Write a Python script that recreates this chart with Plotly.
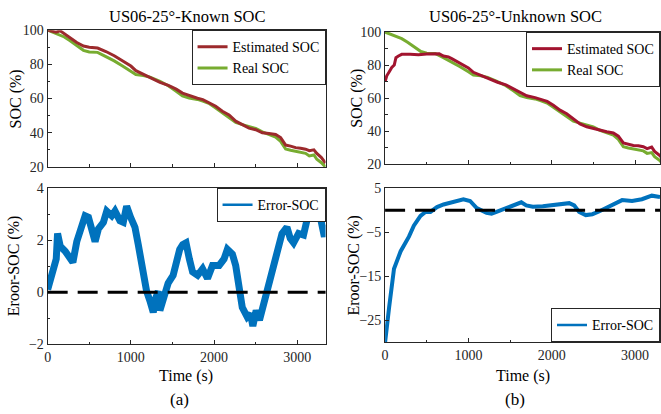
import plotly.graph_objects as go

# ---------------- data ----------------
t_real = [0, 100, 200, 270, 350, 430, 500, 600, 700, 800, 900, 1000, 1060, 1150, 1230,
          1350, 1450, 1545, 1620, 1700, 1800, 1865, 1945, 2020, 2100, 2180, 2260, 2340,
          2420, 2500, 2580, 2660, 2740, 2800, 2860, 2920, 2980, 3040, 3100, 3145, 3200,
          3235, 3290, 3340]
real_soc = [100, 98, 96, 93.8, 91, 88.2, 87.2, 87, 84.5, 82, 79, 76, 74, 73.5, 72.5,
            70, 67.5, 64.3, 61.5, 60.3, 59.5, 58.5, 57, 54.5, 51.5, 49, 46, 44.8,
            43.7, 42.5, 40.5, 39, 37.5, 35, 30.5, 29.8, 29.2, 28.8, 28, 26.5, 27,
            24.5, 22.5, 20]

t_est_a = [0, 60, 100, 150, 200, 270, 350, 430, 500, 600, 700, 800, 900, 1000, 1060,
           1150, 1230, 1350, 1450, 1545, 1620, 1700, 1800, 1865, 1945, 2020, 2100,
           2180, 2260, 2340, 2420, 2500, 2580, 2660, 2740, 2800, 2860, 2920, 2980,
           3040, 3100, 3145, 3200, 3235, 3290, 3340]
est_soc_a = [100, 99.3, 98.8, 99.6, 97.8, 95.5, 92.8, 90.7, 90.0, 89.5, 87.5, 85, 81.8,
             79, 76.3, 74.1, 72.0, 69.5, 67.7, 65.5, 63.2, 61.7, 60.2, 59.4, 57.6,
             55.5, 52.6, 50.4, 46.8, 44.6, 42.7, 41.8, 40.0, 39.6, 39.0, 37.2, 32.8,
             32.2, 31.3, 30.9, 30.4, 29.5, 30.0, 27.9, 25.5, 22.3]

t_est_b = [0, 20, 50, 80, 110, 130, 160, 200, 300, 400, 500, 600, 650, 700, 760, 800,
           900, 1000, 1060, 1150, 1230, 1350, 1450, 1545, 1620, 1700, 1800, 1865,
           1945, 2020, 2100, 2180, 2260, 2340, 2420, 2500, 2580, 2660, 2740, 2800,
           2860, 2920, 2980, 3040, 3100, 3145, 3200, 3235, 3290, 3340]
est_soc_b = [70, 73.5, 76, 78.5, 80, 84.5, 85.5, 86.5, 86.5, 86.3, 86.7, 86.5, 86.8,
             85.5, 85, 83.9, 81.3, 78.3, 75.6, 73.7, 71.9, 69.6, 68, 65.6, 63.2, 61.4,
             60.3, 59.4, 58, 55.6, 52.7, 50.5, 47.2, 44.3, 42.6, 41.6, 40.2, 39.6,
             38.9, 36.9, 32.8, 32, 31.3, 31.1, 30.5, 29.4, 30.3, 27.7, 25.5, 22.8]

t_err_a = [0, 32, 72, 103, 119, 151, 211, 271, 303, 350, 410, 450, 490, 530, 570, 610,
           670, 710, 770, 809, 869, 909, 949, 997, 1049, 1089, 1117, 1149, 1189, 1229,
           1269, 1301, 1329, 1349, 1388, 1448, 1508, 1548, 1587, 1623, 1663, 1703,
           1742, 1802, 1862, 1921, 1981, 2061, 2120, 2160, 2220, 2260, 2307, 2339,
           2399, 2438, 2466, 2506, 2546, 2598, 2657, 2717, 2777, 2817, 2876, 2916,
           2956, 3016, 3075, 3115, 3175, 3222, 3262, 3294, 3326, 3340]
err_a = [0.1, 0.45, 0.78, 1.28, 2.26, 1.77, 1.58, 1.33, 1.15, 1.95, 2.63, 2.94, 2.88,
         2.38, 1.95, 2.44, 2.69, 3.12, 2.94, 3.12, 2.75, 2.69, 3.31, 2.88, 2.5, 1.83,
         1.28, 0.6, 0.04, -0.33, -0.77, -0.21, 0.04, -0.7, -0.27, 0.35, 0.65, 1.28,
         1.65, 1.83, 1.9, 1.28, 0.78, 0.65, 0.9, 0.53, 1.03, 1.03, 1.28, 1.65, 1.47,
         1.03, 0.04, -0.58, -0.95, -0.83, -1.3, -0.7, -1.07, -0.46, 0.16, 0.9, 1.65,
         2.26, 2.5, 2.07, 1.9, 2.26, 2.2, 2.75, 3.0, 3.49, 3.12, 2.5, 2.13, 2.6]

t_err_b = [0, 20, 48, 107, 187, 286, 345, 425, 484, 544, 623, 702, 821, 940, 1020, 1100,
           1218, 1278, 1337, 1456, 1556, 1635, 1694, 1774, 1893, 2012, 2131, 2210,
           2270, 2329, 2409, 2488, 2567, 2647, 2726, 2845, 2964, 3083, 3202, 3300]
err_b = [-30, -26.4, -22.1, -13.3, -9.3, -6.0, -3.5, -1.3, -0.4, -0.4, 0.7, 1.3, 2.0,
         2.5, 2.1, 0.5, -0.6, -0.8, -0.4, 0.5, 1.3, 1.8, 1.1, 0.8, 0.9, 1.1, 1.3,
         1.6, 1.1, -0.4, -1.1, -0.9, -0.3, 0.5, 1.3, 2.3, 2.1, 2.5, 3.3, 3.0]

titles = ["US06-25°-Known SOC", "US06-25°-Unknown SOC"]
panel_tags = ["(a)", "(b)"]

# ---------------- styling ----------------
FONT = "Liberation Serif, Times New Roman, serif"
AX = "#262626"
C_EST_A = "#9C2A2C"
C_EST_B = "#A2142F"
C_REAL = "#77AC30"
C_ERR = "#0072BD"

W, H = 661, 414
def px_x(p):
    return p / W
def px_y(p):
    return 1 - p / H

fig = go.Figure()

# top-left
fig.add_trace(go.Scatter(x=t_real, y=real_soc, mode="lines", name="Real SOC",
                         line=dict(color=C_REAL, width=3), xaxis="x", yaxis="y",
                         legend="legend", legendrank=2))
fig.add_trace(go.Scatter(x=t_est_a, y=est_soc_a, mode="lines", name="Estimated SOC",
                         line=dict(color=C_EST_A, width=3), xaxis="x", yaxis="y",
                         legend="legend", legendrank=1))
# bottom-left
fig.add_trace(go.Scatter(x=t_err_a, y=err_a, mode="lines", name="Error-SOC",
                         line=dict(color=C_ERR, width=7), xaxis="x2", yaxis="y2",
                         showlegend=False))
fig.add_trace(go.Scatter(x=[None], y=[None], mode="lines", name="Error-SOC",
                         line=dict(color=C_ERR, width=2.5), xaxis="x2", yaxis="y2",
                         legend="legend3"))
# top-right
fig.add_trace(go.Scatter(x=t_real, y=real_soc, mode="lines", name="Real SOC",
                         line=dict(color=C_REAL, width=3), xaxis="x3", yaxis="y3",
                         legend="legend2", legendrank=2))
fig.add_trace(go.Scatter(x=t_est_b, y=est_soc_b, mode="lines", name="Estimated SOC",
                         line=dict(color=C_EST_B, width=3), xaxis="x3", yaxis="y3",
                         legend="legend2", legendrank=1))
# bottom-right
fig.add_trace(go.Scatter(x=t_err_b, y=err_b, mode="lines", name="Error-SOC",
                         line=dict(color=C_ERR, width=4), xaxis="x4", yaxis="y4",
                         showlegend=False))
fig.add_trace(go.Scatter(x=[None], y=[None], mode="lines", name="Error-SOC",
                         line=dict(color=C_ERR, width=2.5), xaxis="x4", yaxis="y4",
                         legend="legend4"))

# zero reference lines
for xr, yr in (("x2", "y2"), ("x4", "y4")):
    fig.add_shape(type="line", xref=f"{xr} domain", yref=yr, x0=0, x1=1, y0=0, y1=0,
                  line=dict(color="black", width=3, dash="20px,10px"), layer="above")

def axstyle(**kw):
    d = dict(showline=True, mirror=True, linecolor=AX, linewidth=1, ticks="inside",
             ticklen=4, tickcolor=AX, showgrid=False, zeroline=False,
             tickfont=dict(family=FONT, size=14, color=AX))
    d.update(kw)
    return d

LX = [px_x(44), px_x(324)]
RX = [px_x(384), 1.0]

xmin = dict(ticks="inside", ticklen=2.5, tickcolor=AX, dtick=500)
fig.update_layout(
    width=W, height=H, margin=dict(l=0, r=0, t=0, b=0),
    plot_bgcolor="white", paper_bgcolor="white",
    xaxis=axstyle(domain=LX, anchor="y", range=[0, 3340], dtick=1000, showticklabels=False,
                  minor=xmin),
    yaxis=axstyle(domain=[px_y(166), px_y(24)], anchor="x", range=[20, 100], dtick=20,
                  minor=dict(ticks="inside", ticklen=2.5, tickcolor=AX, dtick=10)),
    xaxis2=axstyle(domain=LX, anchor="y2", range=[0, 3340], dtick=1000, minor=xmin),
    yaxis2=axstyle(domain=[px_y(350), px_y(188)], anchor="x2", range=[-2, 4], dtick=2,
                   minor=dict(ticks="inside", ticklen=2.5, tickcolor=AX, dtick=1)),
    xaxis3=axstyle(domain=RX, anchor="y3", range=[0, 3300], dtick=1000, showticklabels=False,
                   minor=xmin),
    yaxis3=axstyle(domain=[px_y(163), px_y(26)], anchor="x3", range=[20, 100], dtick=20,
                   minor=dict(ticks="inside", ticklen=2.5, tickcolor=AX, dtick=10)),
    xaxis4=axstyle(domain=RX, anchor="y4", range=[0, 3300], dtick=1000, minor=xmin),
    yaxis4=axstyle(domain=[px_y(348), px_y(188)], anchor="x4", range=[-30, 5], tick0=5,
                   dtick=10),
    showlegend=True,
)

legfont = dict(family=FONT, size=14, color="black")
legbase = dict(bgcolor="white", bordercolor=AX, borderwidth=1, font=legfont,
               tracegroupgap=0, itemwidth=30)
fig.update_layout(
    legend=dict(legbase, x=px_x(324), xanchor="right", y=px_y(24), yanchor="top"),
    legend2=dict(legbase, x=1.0, xanchor="right", y=px_y(26), yanchor="top"),
    legend3=dict(legbase, x=px_x(324), xanchor="right", y=px_y(188), yanchor="top"),
    legend4=dict(legbase, x=1.0, xanchor="right", y=px_y(348), yanchor="bottom"),
)

anns = []
def ann(text, x, y, size=16, angle=0):
    anns.append(dict(text=text, x=px_x(x), y=px_y(y), xref="paper", yref="paper",
                     showarrow=False, textangle=angle, xanchor="center", yanchor="middle",
                     font=dict(family=FONT, size=size, color="black")))

ann(titles[0], 184, 10, 16.5)
ann(titles[1], 515, 10, 16.5)
ann("SOC (%)", 12, 95, 16, -90)
ann("SOC (%)", 355, 95, 16, -90)
ann("Eroor-SOC (%)", 10, 268, 16, -90)
ann("Eroor-SOC (%)", 353, 268, 16, -90)
ann("Time (s)", 183, 383, 16)
ann("Time (s)", 523, 383, 16)
ann(panel_tags[0], 177, 407, 17)
ann(panel_tags[1], 515, 407, 17)
fig.update_layout(annotations=anns)

fig.write_html("out.html")
